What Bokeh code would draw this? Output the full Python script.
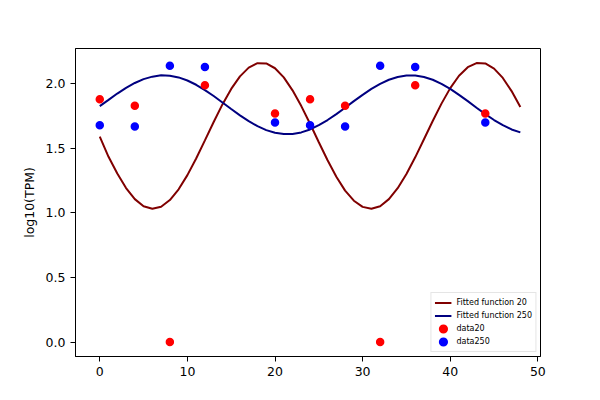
from bokeh.plotting import figure
from bokeh.models import Range1d, FixedTicker, NumeralTickFormatter, Legend, LegendItem, ColumnDataSource
from bokeh.embed import file_html
from bokeh.resources import INLINE

# Sample times (hours)
time_points = [0, 4, 8, 12, 20, 24, 28, 32, 36, 44]
data20 = [1.88, 1.83, 0.0, 1.99, 1.77, 1.88, 1.83, 0.0, 1.99, 1.77]
data250 = [1.68, 1.67, 2.14, 2.13, 1.70, 1.68, 1.67, 2.14, 2.13, 1.70]

# Fitted curves at x = 0..48
curve_x = list(range(0, 49))
fit20 = [1.592, 1.435, 1.305, 1.193, 1.107, 1.052, 1.032, 1.048, 1.100, 1.183,
         1.293, 1.422, 1.562, 1.705, 1.841, 1.961, 2.058, 2.126, 2.160, 2.158,
         2.121, 2.050, 1.950, 1.828, 1.691, 1.548, 1.408, 1.281, 1.173, 1.095,
         1.047, 1.032, 1.052, 1.107, 1.192, 1.302, 1.431, 1.571, 1.712, 1.847,
         1.967, 2.063, 2.129, 2.161, 2.158, 2.118, 2.046, 1.944, 1.821]
fit250 = [1.828, 1.876, 1.925, 1.969, 2.007, 2.037, 2.056, 2.066, 2.063, 2.050,
          2.026, 1.993, 1.952, 1.906, 1.856, 1.805, 1.756, 1.711, 1.672, 1.642,
          1.621, 1.611, 1.612, 1.624, 1.647, 1.680, 1.720, 1.766, 1.815, 1.866,
          1.915, 1.961, 2.000, 2.032, 2.053, 2.065, 2.065, 2.053, 2.032, 2.000,
          1.961, 1.915, 1.866, 1.815, 1.766, 1.720, 1.680, 1.647, 1.624]

x_ticks = [0, 10, 20, 30, 40, 50]
y_ticks = [0.0, 0.5, 1.0, 1.5, 2.0]
labels = ["Fitted function 20", "Fitted function 250", "data20", "data250"]

FONT = "DejaVu Sans"

p = figure(width=600, height=400, output_backend="svg", toolbar_location=None,
           x_range=Range1d(-2.77, 50.3), y_range=Range1d(-0.112, 2.274),
           min_border_left=75, min_border_right=60, min_border_top=48, min_border_bottom=44)

p.xgrid.visible = False
p.ygrid.visible = False
p.outline_line_color = "black"
p.outline_line_alpha = 1.0
p.outline_line_width = 1
p.background_fill_color = "white"
p.border_fill_color = "white"

for ax in (p.xaxis[0], p.yaxis[0]):
    ax.axis_line_color = "black"
    ax.major_tick_line_color = "black"
    ax.major_tick_out = 5
    ax.major_tick_in = 0
    ax.minor_tick_line_color = None
    ax.major_label_text_font = FONT
    ax.major_label_text_font_size = "12.5px"
    ax.major_label_text_color = "black"
    ax.major_label_standoff = 5
    ax.axis_label_text_font = FONT
    ax.axis_label_text_font_size = "12.5px"
    ax.axis_label_text_font_style = "normal"
    ax.axis_label_text_color = "black"

p.xaxis.ticker = FixedTicker(ticks=x_ticks)
p.yaxis.ticker = FixedTicker(ticks=y_ticks)
p.yaxis.formatter = NumeralTickFormatter(format="0.0")
p.yaxis.axis_label = "log10(TPM)"
p.yaxis.axis_label_standoff = 6

curves = ColumnDataSource(dict(x=curve_x, f20=fit20, f250=fit250))
pts = ColumnDataSource(dict(t=time_points, d20=data20, d250=data250))

l20 = p.line("x", "f20", source=curves, line_color="#800000", line_width=2)
l250 = p.line("x", "f250", source=curves, line_color="#000080", line_width=2)
# small marker + thick outline: ~8.5px dots on the plot and ~9px dots in the legend
s20 = p.scatter("t", "d20", source=pts, size=4.5, fill_color="#ff0000",
                line_color="#ff0000", line_width=4)
s250 = p.scatter("t", "d250", source=pts, size=4.5, fill_color="#0000ff",
                 line_color="#0000ff", line_width=4)

legend = Legend(items=[LegendItem(label=labels[0], renderers=[l20]),
                       LegendItem(label=labels[1], renderers=[l250]),
                       LegendItem(label=labels[2], renderers=[s20]),
                       LegendItem(label=labels[3], renderers=[s250])],
                location="bottom_right", margin=4, padding=3, spacing=0,
                glyph_width=17, glyph_height=13, label_height=13, label_standoff=5,
                label_text_font=FONT, label_text_font_size="8px", label_text_color="black",
                border_line_color="#cccccc", border_line_width=1,
                background_fill_color="white", background_fill_alpha=0.8)
p.add_layout(legend, "center")

open("out.html", "w").write(file_html(p, INLINE))
